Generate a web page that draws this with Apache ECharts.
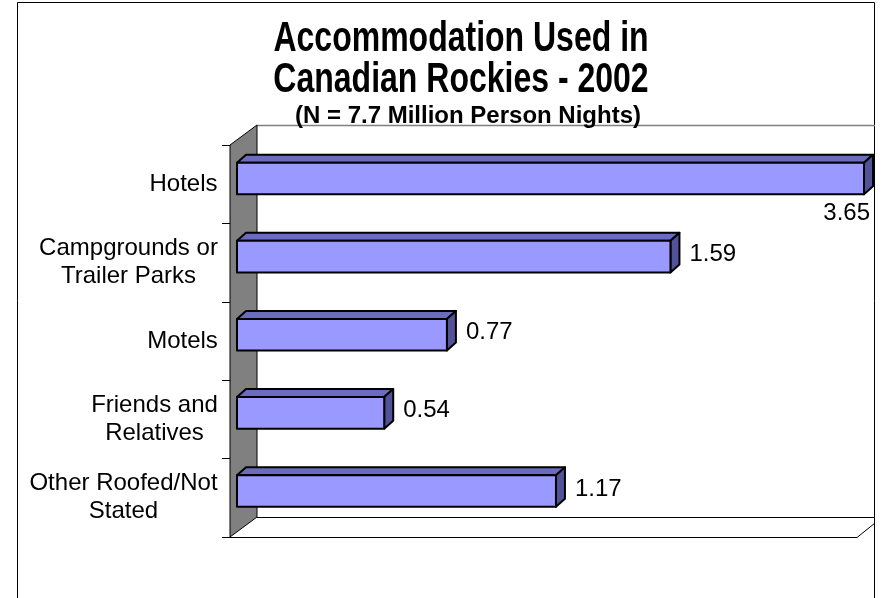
<!DOCTYPE html>
<html>
<head>
<meta charset="utf-8">
<script src="https://cdn.jsdelivr.net/npm/echarts@6/dist/echarts.min.js"></script>
<style>
  html, body { margin: 0; padding: 0; background: #fff; }
  #chart { width: 881px; height: 598px; }
</style>
</head>
<body>
<div id="chart"></div>
<script>
// accommodation types, millions of person nights
var categories = ['Hotels', 'Campgrounds or\nTrailer Parks', 'Motels', 'Friends and\nRelatives', 'Other Roofed/Not\nStated'];
var nights = [3.65, 1.59, 0.77, 0.54, 1.17];
var xMax = 2.3; // axis is cut off, Hotels bar runs past it

var fontFamily = 'Arial, "Liberation Sans", sans-serif';
var labelFont = '24px ' + fontFamily;

// center the lines of each category label like excel does
var ctx = document.createElement('canvas').getContext('2d');
ctx.font = labelFont;
var rich = {};
categories.forEach(function (c, i) {
  var w = 0;
  c.split('\n').forEach(function (s) { w = Math.max(w, ctx.measureText(s).width); });
  rich['c' + i] = { width: Math.ceil(w), align: 'center', fontSize: 24, fontFamily: fontFamily, lineHeight: 28, color: '#000' };
});

var frontColor = '#9999ff', topColor = '#6b6bbf', sideColor = '#525299';

function renderBar(params, api) {
  var v = api.value(0);
  var cat = api.value(1);
  var start = api.coord([0, cat]);
  var end = api.coord([Math.min(v, xMax), cat]);
  var h = api.size([0, 1])[1] * 0.405;
  var x0 = start[0], x1 = end[0];
  var y0 = start[1] - h / 2, y1 = start[1] + h / 2;
  var dx = 9, dy = -8;
  var clipped = v > xMax;
  var line = { stroke: '#000', lineWidth: 2, lineJoin: 'round' };
  return {
    type: 'group',
    children: [
      { type: 'polygon', shape: { points: [[x0, y0], [x0 + dx, y0 + dy], [x1 + dx, y0 + dy], [x1, y0]] },
        style: Object.assign({ fill: topColor }, line) },
      { type: 'polygon', shape: { points: [[x1, y0], [x1 + dx, y0 + dy], [x1 + dx, y1 + dy], [x1, y1]] },
        style: Object.assign({ fill: sideColor }, line) },
      { type: 'rect', shape: { x: x0, y: y0, width: x1 - x0, height: y1 - y0 },
        style: Object.assign({ fill: frontColor }, line) },
      { type: 'text', x: clipped ? x1 + 6 : x1 + 19, y: clipped ? y1 + 19 : start[1] - 2,
        style: { text: v.toFixed(2), font: labelFont, fill: '#000',
          textAlign: clipped ? 'right' : 'left', align: clipped ? 'right' : 'left',
          textVerticalAlign: 'middle', verticalAlign: 'middle' } }
    ]
  };
}

var chart = echarts.init(document.getElementById('chart'));
chart.setOption({
  animation: false,
  backgroundColor: '#fff',
  grid: [
    { left: 237, right: 17, top: 139.5, bottom: 68 },   // bars plane
    { left: 230, width: 600, top: 145, bottom: 61 }     // front plane, labels and ticks
  ],
  xAxis: [
    { type: 'value', gridIndex: 0, min: 0, max: xMax, show: false },
    { type: 'value', gridIndex: 1, min: 0, max: xMax, show: false }
  ],
  yAxis: [
    { type: 'category', gridIndex: 0, data: categories, inverse: true, show: false },
    { type: 'category', gridIndex: 1, data: categories, inverse: true,
      axisLine: { show: false },
      axisTick: { show: true, length: 8, lineStyle: { color: '#000', width: 1 } },
      axisLabel: {
        margin: 12,
        formatter: function (value, index) {
          return value.split('\n').map(function (s) { return '{c' + index + '|' + s + '}'; }).join('\n');
        },
        rich: rich
      },
      splitLine: { show: false }
    }
  ],
  graphic: [
    // outer frame
    { type: 'rect', z: 0, shape: { x: 17.5, y: 2.5, width: 857, height: 610 },
      style: { fill: 'none', stroke: '#000', lineWidth: 1 } },
    // back wall top edge
    { type: 'line', z: 0, shape: { x1: 257, y1: 125.5, x2: 875, y2: 125.5 },
      style: { stroke: '#808080', lineWidth: 1.5 } },
    // floor
    { type: 'polyline', z: 0, shape: { points: [[257, 517.5], [875, 517.5]] },
      style: { stroke: '#000', lineWidth: 1 } },
    { type: 'polyline', z: 0, shape: { points: [[223, 537.5], [857, 537.5], [875, 523]] },
      style: { stroke: '#000', lineWidth: 1, fill: 'none' } },
    // side wall
    { type: 'polygon', z: 1, shape: { points: [[230, 145], [257, 125], [257, 517], [230, 537]] },
      style: { fill: '#808080', stroke: '#000', lineWidth: 1 } },
    // titles
    { type: 'text', z: 5, x: 461, y: 40, scaleY: 1.3,
      style: { text: 'Accommodation Used in', font: 'bold 32px ' + fontFamily, fill: '#000',
        textAlign: 'center', align: 'center', textVerticalAlign: 'middle', verticalAlign: 'middle' } },
    { type: 'text', z: 5, x: 461, y: 81, scaleY: 1.3,
      style: { text: 'Canadian Rockies - 2002', font: 'bold 32px ' + fontFamily, fill: '#000',
        textAlign: 'center', align: 'center', textVerticalAlign: 'middle', verticalAlign: 'middle' } },
    { type: 'text', z: 5, x: 468, y: 116,
      style: { text: '(N = 7.7 Million Person Nights)', font: 'bold 24px ' + fontFamily, fill: '#000',
        textAlign: 'center', align: 'center', textVerticalAlign: 'middle', verticalAlign: 'middle' } }
  ],
  series: [{
    type: 'custom',
    xAxisIndex: 0,
    yAxisIndex: 0,
    z: 3,
    renderItem: renderBar,
    encode: { x: 0, y: 1 },
    data: nights.map(function (v, i) { return [v, i]; })
  }]
});
</script>
</body>
</html>
